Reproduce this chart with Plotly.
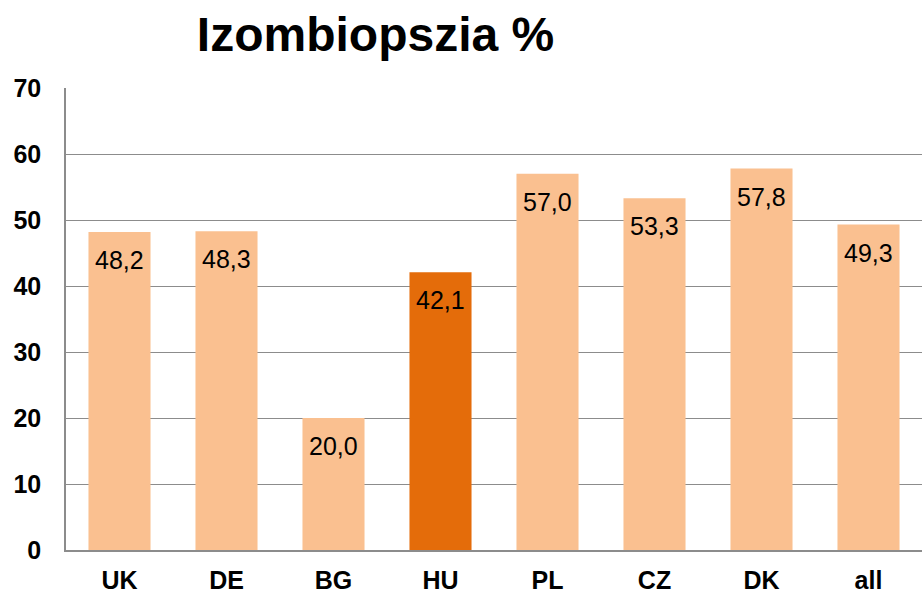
import plotly.graph_objects as go

categories = ["UK", "DE", "BG", "HU", "PL", "CZ", "DK", "all"]
values = [48.2, 48.3, 20.0, 42.1, 57.0, 53.3, 57.8, 49.3]
labels = ["48,2", "48,3", "20,0", "42,1", "57,0", "53,3", "57,8", "49,3"]
y_ticks = [0, 10, 20, 30, 40, 50, 60, 70]

light = "#FAC090"
dark = "#E46C0A"
colors = [dark if c == "HU" else light for c in categories]
FONT = "Liberation Sans, Arial, sans-serif"

fig = go.Figure()
fig.add_trace(go.Bar(
    x=categories, y=values, marker=dict(color=colors, line=dict(width=0)),
    hoverinfo="skip",
))

for c, v, t in zip(categories, values, labels):
    fig.add_annotation(x=c, y=v, text=t, showarrow=False, yanchor="middle",
                       yshift=-28, font=dict(size=25, color="black", family=FONT))

fig.update_layout(
    width=922, height=593,
    margin=dict(l=66, r=0, t=88, b=43),
    paper_bgcolor="white", plot_bgcolor="white",
    showlegend=False,
    bargap=0.42,
    font=dict(family=FONT, color="black"),
    title=dict(text="<b>Izombiopszia %</b>", x=375.5 / 922, xref="container",
               xanchor="center", y=1 - 34 / 593, yref="container", yanchor="middle",
               font=dict(size=48, color="black", family=FONT)),
)
fig.update_yaxes(
    range=[0, 70], tickvals=y_ticks, ticktext=[f"<b>{v}</b>" for v in y_ticks],
    showgrid=True, gridcolor="#8C8C8C", gridwidth=1.4,
    showline=True, linecolor="#8C8C8C", linewidth=1.5,
    zeroline=False, ticks="", tickfont=dict(size=25, color="black"),
    ticklabelstandoff=18, automargin=False,
)
fig.update_xaxes(
    tickvals=categories, ticktext=[f"<b>{c}</b>" for c in categories],
    showline=True, linecolor="#8C8C8C", linewidth=1.5,
    showgrid=False, ticks="", tickfont=dict(size=25, color="black"),
    ticklabelstandoff=7, automargin=False,
)

fig.write_html("out.html", config={"displayModeBar": False},
               post_script="document.body.style.margin='0';")
